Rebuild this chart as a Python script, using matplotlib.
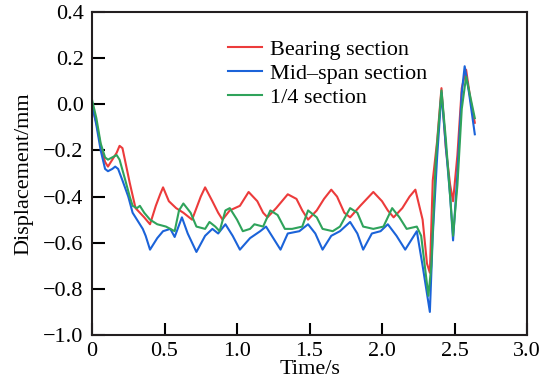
"""Displacement time history of three bridge sections."""
import matplotlib
matplotlib.use("Agg")
import matplotlib.pyplot as plt

# data
t_bearing = [0.00, 0.03, 0.06, 0.09, 0.11, 0.14, 0.17, 0.19, 0.21, 0.24, 0.26, 0.30, 0.33, 0.36,
             0.40, 0.44, 0.47, 0.49, 0.53, 0.58, 0.63, 0.67, 0.69, 0.72, 0.75, 0.78, 0.83, 0.87,
             0.90, 0.95, 1.02, 1.08, 1.14, 1.18, 1.21, 1.27, 1.35, 1.41, 1.45, 1.49, 1.55, 1.60,
             1.65, 1.69, 1.74, 1.78, 1.85, 1.94, 2.00, 2.04, 2.08, 2.14, 2.19, 2.23, 2.28, 2.31,
             2.33, 2.35, 2.38, 2.41, 2.44, 2.47, 2.49, 2.52, 2.55, 2.58, 2.61, 2.64]
d_bearing = [-0.01, -0.08, -0.18, -0.25, -0.27, -0.24, -0.21, -0.18, -0.19, -0.28, -0.34, -0.45,
             -0.47, -0.49, -0.52, -0.44, -0.39, -0.36, -0.42, -0.45, -0.47, -0.49, -0.50, -0.45,
             -0.40, -0.36, -0.42, -0.47, -0.50, -0.46, -0.44, -0.38, -0.42, -0.47, -0.49, -0.45,
             -0.39, -0.41, -0.46, -0.50, -0.46, -0.41, -0.37, -0.40, -0.47, -0.49, -0.44, -0.38,
             -0.42, -0.46, -0.49, -0.45, -0.40, -0.37, -0.50, -0.69, -0.73, -0.33, -0.16, 0.07,
             -0.19, -0.35, -0.42, -0.22, 0.07, 0.15, 0.02, -0.08]

t_mid = [0.00, 0.03, 0.06, 0.09, 0.11, 0.14, 0.16, 0.18, 0.21, 0.25, 0.28, 0.31, 0.35, 0.37,
         0.40, 0.45, 0.49, 0.54, 0.57, 0.62, 0.66, 0.72, 0.78, 0.83, 0.87, 0.92, 0.97, 1.02,
         1.09, 1.16, 1.20, 1.25, 1.30, 1.35, 1.43, 1.49, 1.54, 1.59, 1.65, 1.71, 1.78, 1.83,
         1.87, 1.93, 1.99, 2.04, 2.10, 2.16, 2.21, 2.24, 2.28, 2.33, 2.35, 2.38, 2.41, 2.44,
         2.47, 2.49, 2.52, 2.55, 2.57, 2.60, 2.64]
d_mid = [0.00, -0.09, -0.20, -0.28, -0.29, -0.28, -0.27, -0.28, -0.33, -0.40, -0.47, -0.50,
         -0.54, -0.57, -0.63, -0.58, -0.55, -0.54, -0.575, -0.49, -0.56, -0.64, -0.57, -0.54,
         -0.56, -0.52, -0.57, -0.63, -0.58, -0.55, -0.53, -0.58, -0.63, -0.56, -0.55, -0.52,
         -0.56, -0.63, -0.57, -0.55, -0.51, -0.56, -0.63, -0.56, -0.55, -0.52, -0.57, -0.63,
         -0.58, -0.55, -0.70, -0.90, -0.57, -0.23, 0.05, -0.18, -0.40, -0.59, -0.30, 0.05,
         0.165, 0.05, -0.13]

t_quarter = [0.00, 0.03, 0.06, 0.09, 0.11, 0.14, 0.17, 0.19, 0.23, 0.26, 0.28, 0.31, 0.33, 0.36,
             0.40, 0.45, 0.51, 0.57, 0.60, 0.63, 0.68, 0.72, 0.78, 0.81, 0.85, 0.88, 0.92, 0.95,
             1.00, 1.04, 1.09, 1.12, 1.18, 1.23, 1.28, 1.33, 1.38, 1.45, 1.49, 1.55, 1.59, 1.66,
             1.71, 1.78, 1.83, 1.87, 1.94, 2.01, 2.07, 2.12, 2.17, 2.24, 2.27, 2.32, 2.34, 2.37,
             2.41, 2.44, 2.47, 2.49, 2.52, 2.55, 2.58, 2.61, 2.64]
d_quarter = [0.02, -0.06, -0.17, -0.23, -0.24, -0.23, -0.22, -0.24, -0.33, -0.40, -0.44, -0.45,
             -0.44, -0.47, -0.50, -0.52, -0.53, -0.55, -0.46, -0.43, -0.47, -0.53, -0.54, -0.51,
             -0.53, -0.55, -0.46, -0.45, -0.50, -0.55, -0.54, -0.52, -0.53, -0.46, -0.48, -0.54,
             -0.54, -0.53, -0.46, -0.49, -0.54, -0.55, -0.53, -0.45, -0.47, -0.53, -0.54, -0.53,
             -0.45, -0.49, -0.54, -0.53, -0.57, -0.83, -0.70, -0.25, 0.06, -0.15, -0.40, -0.57,
             -0.35, -0.02, 0.12, 0.03, -0.06]

labels = ["Bearing section", "Mid\u2013span section", "1/4 section"]
x_ticks = [0, 0.5, 1.0, 1.5, 2.0, 2.5, 3.0]
x_ticklabels = ["0", "0.5", "1.0", "1.5", "2.0", "2.5", "3.0"]
y_ticks = [0.4, 0.2, 0.0, -0.2, -0.4, -0.6, -0.8, -1.0]

plt.rcParams["font.family"] = ["Liberation Serif", "DejaVu Serif"]
plt.rcParams["font.size"] = 16

fig = plt.figure(figsize=(5.5, 3.89), dpi=100)
ax = fig.add_axes([0.1673, 0.1388, 0.7909, 0.8303])

ax.plot(t_bearing, d_bearing, color="#ec3b3b", lw=1.5, label=labels[0])
ax.plot(t_mid, d_mid, color="#1b63d9", lw=1.5, label=labels[1])
ax.plot(t_quarter, d_quarter, color="#2fa35b", lw=1.5, label=labels[2])

ax.set_xlim(0, 3.0)
ax.set_ylim(-1.0, 0.4)
ax.set_xticks(x_ticks)
ax.set_xticklabels(x_ticklabels)
ax.set_yticks(y_ticks)
ax.set_yticklabels([("%.1f" % v).replace("-", "\u2212") for v in y_ticks])
ax.tick_params(direction="in", length=9, width=1.5, top=False, right=False)
ax.tick_params(axis="x", pad=5)
ax.tick_params(axis="y", pad=6)
for s in ax.spines.values():
    s.set_linewidth(1.5)
    s.set_color("#231f20")

ax.set_xlabel("Time/s", labelpad=-1)
ax.set_ylabel("Displacement/mm", labelpad=7)

ax.legend(loc="upper left", bbox_to_anchor=(0.313, 0.915), frameon=False, borderpad=0,
          borderaxespad=0, handlelength=1.5, handletextpad=0.4, labelspacing=0.15)

fig.savefig("out.png", dpi=100)
